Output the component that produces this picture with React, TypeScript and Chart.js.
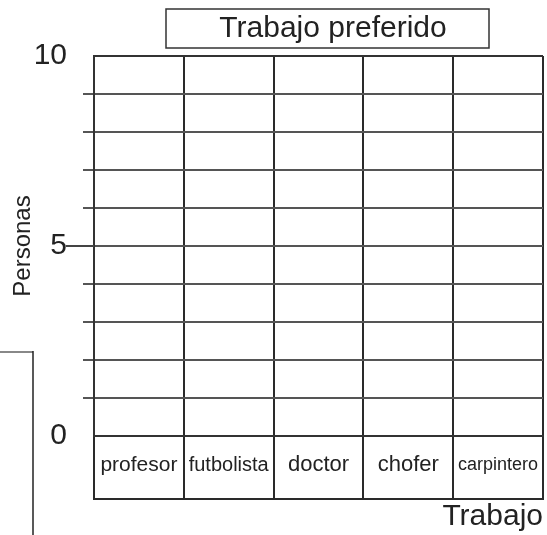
import React, { useEffect, useRef } from 'react';
import { Chart, registerables } from 'chart.js';

Chart.register(...registerables);

const CATEGORIES = ['profesor', 'futbolista', 'doctor', 'chofer', 'carpintero'];
const PERSONAS = [0, 0, 0, 0, 0];
const Y_LABELS = [0, 5, 10];
const Y_MIN = 0;
const Y_MAX = 10;
const Y_STEP = 1;
const MAJOR_TICK = 5;
const X_LABEL_SIZES = [21, 20, 22, 22, 18];
const TITLE = 'Trabajo preferido';
const X_TITLE = 'Trabajo';
const Y_TITLE = 'Personas';

const FONT = '"Liberation Sans", Arial, Helvetica, sans-serif';
const TEXT = '#222';

const decor = {
  id: 'decor',
  afterDraw(chart: any) {
    const ctx = chart.ctx as CanvasRenderingContext2D;
    const { left, right, bottom } = chart.chartArea;
    const xs = chart.scales.x;
    const ys = chart.scales.y;
    ctx.save();
    // bottom of the category box
    const boxBottom = bottom + xs.options.grid.tickLength;
    ctx.strokeStyle = '#2a2a2a';
    ctx.lineWidth = 2;
    ctx.beginPath();
    ctx.moveTo(left - 1, boxBottom);
    ctx.lineTo(right + 1, boxBottom);
    ctx.stroke();
    // long major tick
    const py = ys.getPixelForValue(MAJOR_TICK);
    ctx.strokeStyle = '#444';
    ctx.beginPath();
    ctx.moveTo(left - 28, py);
    ctx.lineTo(left, py);
    ctx.stroke();
    // title with box
    ctx.lineWidth = 1.5;
    ctx.strokeStyle = '#333';
    ctx.strokeRect(166, 9, 323, 39);
    ctx.fillStyle = TEXT;
    ctx.font = `30px ${FONT}`;
    ctx.textAlign = 'center';
    ctx.textBaseline = 'middle';
    ctx.fillText(TITLE, 333, 29);
    // left bracket fragment
    ctx.lineWidth = 2;
    ctx.strokeStyle = '#888';
    ctx.beginPath();
    ctx.moveTo(0, 352);
    ctx.lineTo(33, 352);
    ctx.stroke();
    ctx.lineWidth = 1.5;
    ctx.strokeStyle = '#222';
    ctx.beginPath();
    ctx.moveTo(33, 351);
    ctx.lineTo(33, chart.height);
    ctx.stroke();
    ctx.restore();
  },
};

export default function App() {
  const ref = useRef<HTMLCanvasElement | null>(null);

  useEffect(() => {
    if (!ref.current) return;
    const chart = new Chart(ref.current, {
      type: 'bar',
      data: {
        labels: CATEGORIES,
        datasets: [
          {
            label: Y_TITLE,
            data: PERSONAS,
            backgroundColor: '#888',
          },
        ],
      },
      options: {
        responsive: false,
        animation: false,
        events: [],
        layout: { padding: { top: 56, right: 4, left: 0, bottom: 0 } },
        plugins: {
          legend: { display: false },
          tooltip: { enabled: false },
          title: { display: false },
        },
        scales: {
          x: {
            offset: true,
            grid: {
              offset: true,
              color: '#2a2a2a',
              lineWidth: 2,
              drawTicks: true,
              tickLength: 63,
              tickColor: '#2a2a2a',
              tickWidth: 2,
            },
            border: { display: true, color: '#333', width: 2 },
            ticks: {
              autoSkip: false,
              maxRotation: 0,
              minRotation: 0,
              padding: -47,
              color: TEXT,
              font: (c: any) => ({
                family: FONT,
                size: X_LABEL_SIZES[c.index] ?? 20,
                lineHeight: '26px',
              }),
            },
            title: {
              display: true,
              text: X_TITLE,
              align: 'end',
              color: TEXT,
              font: { family: FONT, size: 30 },
              padding: 0,
            },
            afterFit: (s: any) => {
              s.height = 99;
            },
          },
          y: {
            min: Y_MIN,
            max: Y_MAX,
            grid: {
              color: (c: any) => (c.tick && c.tick.value === Y_MAX ? '#333' : '#555'),
              lineWidth: 2,
              drawTicks: true,
              tickLength: 11,
              tickWidth: 2,
              tickColor: (c: any) =>
                c.tick && (c.tick.value === Y_MIN || c.tick.value === Y_MAX)
                  ? 'rgba(0,0,0,0)'
                  : '#555',
            },
            border: { display: true, color: '#333', width: 2 },
            ticks: {
              stepSize: Y_STEP,
              autoSkip: false,
              padding: 16,
              color: TEXT,
              font: { family: FONT, size: 30 },
              callback: (v: any) => (Y_LABELS.includes(Number(v)) ? String(v) : ''),
            },
            title: {
              display: true,
              text: Y_TITLE,
              color: TEXT,
              font: { family: FONT, size: 24 },
              padding: { top: 9, bottom: 0 },
            },
            afterFit: (s: any) => {
              s.width = 94;
            },
          },
        },
      },
      plugins: [decor],
    } as any);
    return () => chart.destroy();
  }, []);

  return (
    <div style={{ position: 'absolute', left: 0, top: 0, width: 547, height: 535, background: '#fff' }}>
      <canvas ref={ref} width={547} height={535} />
    </div>
  );
}
